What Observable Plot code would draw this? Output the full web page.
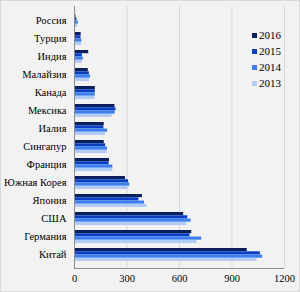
<!DOCTYPE html>
<html>
<head>
<meta charset="utf-8">
<script src="https://cdn.jsdelivr.net/npm/d3@7"></script>
<script src="https://cdn.jsdelivr.net/npm/@observablehq/plot@0.6"></script>
<style>
  html, body { margin: 0; padding: 0; background: #fff; }
  #wrap { position: relative; width: 300px; height: 292px; box-sizing: border-box;
          border: 1px solid #d9d9d9; background: #f2f2f2; overflow: hidden; }
  #chart svg { display: block; }
  #legend { position: absolute; left: 251px; top: 26px; font-family: "Liberation Serif", serif;
            font-size: 11px; color: #000; }
  #legend .row { display: flex; align-items: center; height: 16px; }
  #legend .sw { width: 5px; height: 5px; margin-right: 2px; }
</style>
</head>
<body>
<div id="wrap"><div id="chart"></div><div id="legend"></div></div>
<script>
const countries = ["Россия","Турция","Индия","Малайзия","Канада","Мексика","Иалия","Сингапур","Франция","Южная Корея","Япония","США","Германия","Китай"];
const years = ["2016","2015","2014","2013"];
const v2016 = [8, 38, 81, 79, 119, 231, 170, 170, 200, 291, 388, 624, 670, 987];
const v2015 = [14, 37, 45, 85, 119, 237, 168, 178, 198, 309, 368, 647, 660, 1062];
const v2014 = [22, 42, 50, 92, 119, 232, 189, 189, 219, 316, 400, 666, 727, 1075];
const v2013 = [18, 40, 44, 86, 117, 215, 178, 187, 219, 306, 414, 641, 700, 1043];
const colors = ["#0b1f5c", "#0a3fc4", "#3a7ef2", "#b3cbf7"];
const xTicks = [0, 300, 600, 900, 1200];

const series = [v2016, v2015, v2014, v2013];
const data = [];
years.forEach((y, i) => countries.forEach((c, j) => data.push({country: c, year: y, value: series[i][j]})));

const W = 298, H = 290, mt = 5, mb = 23, ml = 73, mr = 15;
const pIn = 0.3, pOut = 0.15;
const step = (H - mt - mb) / (countries.length - pIn + 2 * pOut);
const barH = step * (1 - pIn) / years.length;

const marks = [
  Plot.ruleX(xTicks.slice(1), {stroke: "#d9d9d9", strokeWidth: 1}),
  ...years.map((yr, i) => Plot.barX(data.filter(d => d.year === yr), {
    x: "value", y: "country", fill: colors[i],
    insetTop: i * barH, insetBottom: (years.length - 1 - i) * barH
  })),
  Plot.ruleX([0], {stroke: "#8c8c8c", strokeWidth: 1})
];

const chart = Plot.plot({
  width: W, height: H,
  marginTop: mt, marginBottom: mb, marginLeft: ml, marginRight: mr,
  style: {background: "transparent", fontFamily: "Liberation Serif, serif", fontSize: "10.5px", color: "#000"},
  x: {domain: [0, 1200], ticks: xTicks, tickFormat: d => String(d), tickSize: 0, tickPadding: 6, label: null},
  y: {domain: countries, paddingInner: pIn, paddingOuter: pOut, tickSize: 0, tickPadding: 8, label: null},
  marks
});
// bottom axis line drawn from the plot's own x scale
const xs = chart.scale("x");
d3.select(chart).append("line")
  .attr("x1", xs.apply(0)).attr("x2", xs.apply(1200))
  .attr("y1", H - mb + 0.5).attr("y2", H - mb + 0.5)
  .attr("stroke", "#8c8c8c").attr("stroke-width", 1);
document.getElementById("chart").appendChild(chart);

const leg = document.getElementById("legend");
years.forEach((yr, i) => {
  const row = document.createElement("div");
  row.className = "row";
  row.innerHTML = `<span class="sw" style="background:${colors[i]}"></span><span>${yr}</span>`;
  leg.appendChild(row);
});
</script>
</body>
</html>
